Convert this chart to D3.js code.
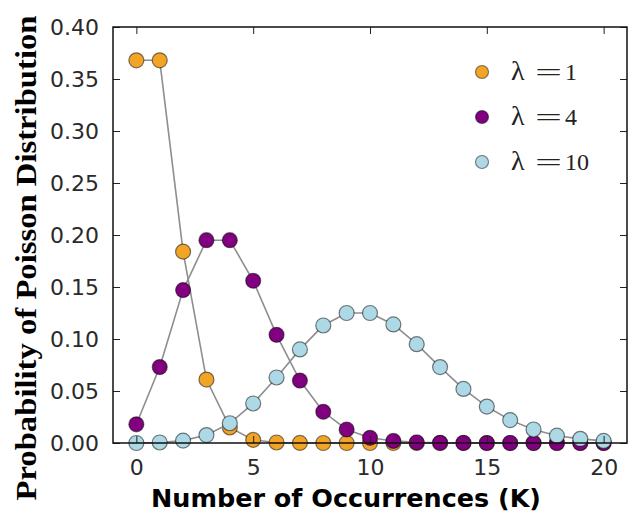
<!DOCTYPE html>
<html>
<head>
<meta charset="utf-8">
<script src="https://cdn.jsdelivr.net/npm/d3@7"></script>
<style>
  body { margin: 0; background: #fff; }
  #svg svg { display: block; }
</style>
</head>
<body>
<div id="svg"></div>
<script>
// values
var ks = [0,1,2,3,4,5,6,7,8,9,10,11,12,13,14,15,16,17,18,19,20];
var lam1 = [0.368,0.368,0.184,0.061,0.015,0.003,0.0005,0.0001,0,0,0,0,0,0,0,0,0,0,0,0,0];
var lam4 = [0.018,0.073,0.147,0.195,0.195,0.156,0.104,0.060,0.030,0.013,0.005,0.002,0.0006,0.0002,0.0001,0,0,0,0,0,0];
var lam10 = [0.0000,0.0005,0.0023,0.0076,0.019,0.038,0.063,0.090,0.113,0.125,0.125,0.114,0.095,0.073,0.052,0.035,0.022,0.013,0.007,0.004,0.002];
var seriesNames = ["1", "4", "10"];
var seriesColors = ["#f2a427", "#800080", "#add8e6"];
var xTicks = [0, 5, 10, 15, 20];
var yTicks = [0, 0.05, 0.10, 0.15, 0.20, 0.25, 0.30, 0.35, 0.40];

var chart = {
    left: 113, right: 627, top: 27, bottom: 443,
    init: function(){
        this.svg = d3.select('#svg').append('svg')
            .attr('width', 630)
            .attr('height', 518);
        this.x = d3.scaleLinear().domain([-1, 21]).range([this.left, this.right]);
        this.y = d3.scaleLinear().domain([0, 0.4]).range([this.bottom, this.top]);
        this.drawSeries();
        this.drawFrame();
        this.drawLegend();
        this.drawLabels();
    },
    drawSeries: function(){
        var x = this.x, y = this.y;
        var all = [lam1, lam4, lam10];
        var line = d3.line().x(function(d){return x(d.k)}).y(function(d){return y(d.p)});
        all.forEach(function(vals, i){
            var pts = ks.map(function(k, j){ return {k: k, p: vals[j]} });
            var g = this.svg.append('g');
            g.append('path').datum(pts)
                .attr('d', line)
                .attr('fill', 'none')
                .attr('stroke', '#8e8e8e')
                .attr('stroke-width', 1.6);
            g.selectAll('circle').data(pts).enter().append('circle')
                .attr('cx', function(d){return x(d.k)})
                .attr('cy', function(d){return y(d.p)})
                .attr('r', 7.5)
                .attr('fill', seriesColors[i])
                .attr('stroke', 'rgba(0,0,0,0.5)')
                .attr('stroke-width', 1.2);
        }, this);
    },
    drawFrame: function(){
        var svg = this.svg;
        var tl = 7;
        var xb = d3.axisBottom(this.x).tickValues(xTicks).tickSizeInner(-tl).tickSizeOuter(0).tickPadding(16);
        var xt = d3.axisTop(this.x).tickValues(xTicks).tickSizeInner(-tl).tickSizeOuter(0).tickFormat('');
        var yl = d3.axisLeft(this.y).tickValues(yTicks).tickSizeInner(-tl).tickSizeOuter(0).tickPadding(14)
            .tickFormat(d3.format('.2f'));
        var yr = d3.axisRight(this.y).tickValues(yTicks).tickSizeInner(-tl).tickSizeOuter(0).tickFormat('');

        var gs = [
            svg.append('g').attr('transform', 'translate(0,' + this.bottom + ')').call(xb),
            svg.append('g').attr('transform', 'translate(0,' + this.top + ')').call(xt),
            svg.append('g').attr('transform', 'translate(' + this.left + ',0)').call(yl),
            svg.append('g').attr('transform', 'translate(' + this.right + ',0)').call(yr)
        ];
        gs.forEach(function(g){
            g.select('.domain').remove();
            g.selectAll('line').attr('stroke', '#222').attr('stroke-width', 1);
            g.selectAll('text')
                .attr('fill', '#2a2a2a')
                .style('font-family', '"DejaVu Sans", sans-serif')
                .style('font-size', '22px');
        });
        svg.append('rect')
            .attr('x', this.left).attr('y', this.top)
            .attr('width', this.right - this.left)
            .attr('height', this.bottom - this.top)
            .attr('fill', 'none')
            .attr('stroke', '#111')
            .attr('stroke-width', 1.5);
    },
    drawLegend: function(){
        var svg = this.svg;
        var rows = [72, 117, 162];
        seriesNames.forEach(function(n, i){
            var cy = rows[i];
            svg.append('circle')
                .attr('cx', 482).attr('cy', cy).attr('r', 6.5)
                .attr('fill', seriesColors[i])
                .attr('stroke', 'rgba(0,0,0,0.5)')
                .attr('stroke-width', 1.1);
            var font = '"Liberation Serif", "DejaVu Serif", serif';
            svg.append('text').attr('x', 511).attr('y', cy + 8)
                .style('font-family', font).style('font-size', '28px').attr('fill', '#222')
                .text('λ');
            svg.append('text').attr('x', 535).attr('y', cy + 8)
                .attr('textLength', 27).attr('lengthAdjust', 'spacingAndGlyphs')
                .style('font-family', font).style('font-size', '24px').attr('fill', '#222')
                .text('=');
            svg.append('text').attr('x', 565).attr('y', cy + 8)
                .style('font-family', font).style('font-size', '24px').attr('fill', '#222')
                .text(n);
        });
    },
    drawLabels: function(){
        this.svg.append('text')
            .attr('x', 346).attr('y', 507)
            .attr('text-anchor', 'middle')
            .attr('textLength', 390).attr('lengthAdjust', 'spacingAndGlyphs')
            .style('font-family', '"DejaVu Sans", sans-serif')
            .style('font-weight', 'bold')
            .style('font-size', '24px')
            .attr('fill', '#000')
            .text('Number of Occurrences (K)');
        this.svg.append('text')
            .attr('transform', 'translate(36,258) rotate(-90)')
            .attr('text-anchor', 'middle')
            .attr('textLength', 485).attr('lengthAdjust', 'spacingAndGlyphs')
            .style('font-family', '"Liberation Serif", serif')
            .style('font-weight', 'bold')
            .style('font-size', '30px')
            .attr('fill', '#000')
            .text('Probability of Poisson Distribution');
    }
};
chart.init();
</script>
</body>
</html>
